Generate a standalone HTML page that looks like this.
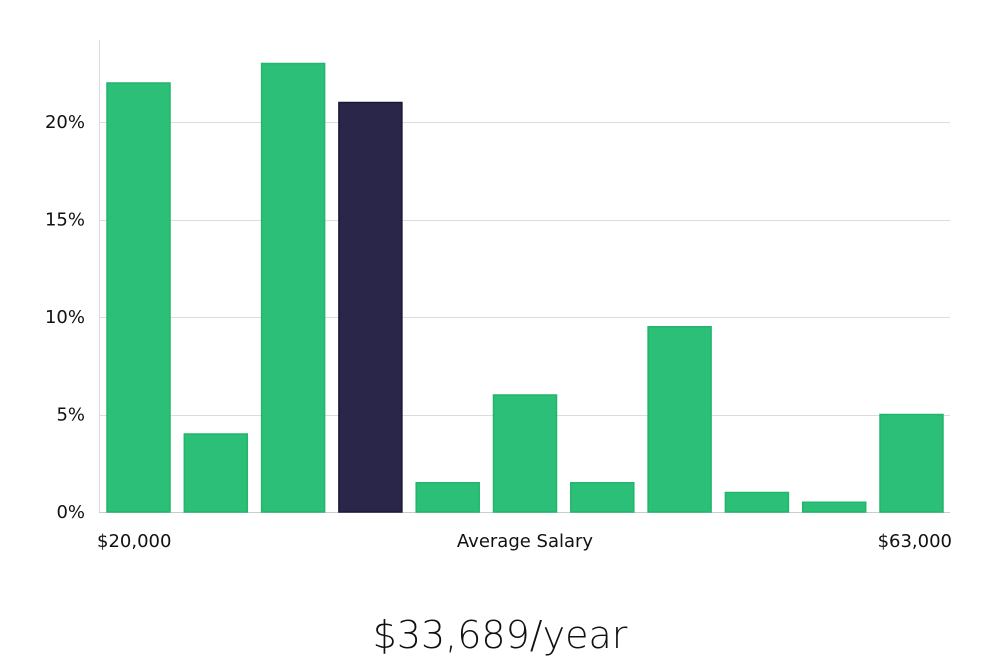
<!DOCTYPE html>
<html><head><meta charset="utf-8"><style>
body{margin:0;background:#fff;width:1000px;height:660px;overflow:hidden;font-family:"DejaVu Sans","Liberation Sans",sans-serif;}
svg text{font-family:"DejaVu Sans","Liberation Sans",sans-serif;}
</style></head><body>
<svg id="chart" width="1000" height="660" xmlns="http://www.w3.org/2000/svg">
<g id="grid"></g>
<g id="bars"></g>
<g id="yticks"></g>
<line x1="99.5" y1="40" x2="99.5" y2="512" stroke="#ddd" stroke-width="1"/>
<text x="97" y="547" font-size="18" fill="#111">$20,000</text>
<text x="525" y="547" font-size="18" fill="#111" text-anchor="middle">Average Salary</text>
<text x="952" y="547" font-size="18" fill="#111" text-anchor="end">$63,000</text>
<text x="500" y="648" font-size="38" fill="#111" text-anchor="middle" font-weight="300">$33,689/year</text>
</svg>
<script>
const categories=["b1","b2","b3","b4","b5","b6","b7","b8","b9","b10","b11"];
const values=[22,4,23,21,1.5,6,1.5,9.5,1,0.5,5];
const highlightIndex=3;
const yTicks=[0,5,10,15,20];
const yTickLabels=["0%","5%","10%","15%","20%"];
const ns="http://www.w3.org/2000/svg";
const y0=512, pxPerUnit=19.5;
function yScale(v){return y0-v*pxPerUnit;}
const x0=107, step=77.3, bw=63;
function xScale(i){return x0+i*step;}
const grid=document.getElementById('grid'), bars=document.getElementById('bars'), yt=document.getElementById('yticks');
yTicks.forEach((t,i)=>{
  const l=document.createElementNS(ns,'line');
  
  
  const y=Math.round(yScale(t))+0.5;
  l.setAttribute('x1',99);l.setAttribute('x2',950);l.setAttribute('y1',y);l.setAttribute('y2',y);
  l.setAttribute('stroke',t===0?'#ccc':'#dcdcdc');
  grid.appendChild(l);
  const tx=document.createElementNS(ns,'text');
  
  
  tx.setAttribute('x',85);tx.setAttribute('y',yScale(t)+6);
  tx.setAttribute('text-anchor','end');tx.setAttribute('font-size','18');tx.setAttribute('fill','#111');
  tx.textContent=yTickLabels[i];
  yt.appendChild(tx);
});
values.forEach((v,i)=>{
  const r=document.createElementNS(ns,'rect');
  
  
  r.setAttribute('x',xScale(i));r.setAttribute('y',yScale(v));
  r.setAttribute('width',bw);r.setAttribute('height',y0-yScale(v));
  const hi=i===highlightIndex;
  r.setAttribute('fill',hi?'#29264a':'#2bbf77');
  r.setAttribute('stroke',hi?'#1a1838':'#22b56c');
  r.setAttribute('stroke-width','1.5');
  bars.appendChild(r);
});
</script>
</body></html>
